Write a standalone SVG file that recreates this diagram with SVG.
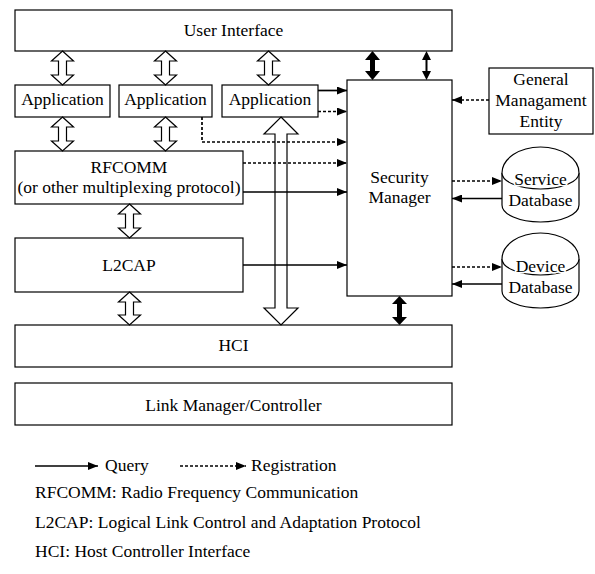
<svg xmlns="http://www.w3.org/2000/svg" width="595" height="574" viewBox="0 0 595 574" font-family="Liberation Serif, Times New Roman, Times, Tinos, Noto Serif, DejaVu Serif, serif" font-size="17.5">
<defs>
<style>
.c{text-anchor:middle}
.box{fill:#fff;stroke:#000;stroke-width:1.2}
.hollow{fill:#fff;stroke:#000;stroke-width:1.2}
.q{stroke:#000;stroke-width:1.7;fill:none}
.r{stroke:#000;stroke-width:1.7;fill:none;stroke-dasharray:3 2}
.thick{fill:#000}
.mask{stroke:#fff;stroke-width:3;paint-order:stroke}
</style>
<marker id="ah" viewBox="0 0 10 8" refX="10" refY="4" markerWidth="10" markerHeight="8" markerUnits="userSpaceOnUse" orient="auto">
<path d="M0,0 L10,4 L0,8 Z" fill="#000"/>
</marker>
</defs>

<g id="user-interface"><rect class="box" x="15" y="10" width="437" height="41"/><text class="c" x="233.5" y="36">User Interface</text></g>
<g id="app1"><rect class="box" x="15" y="85" width="95" height="32"/><text class="c" x="62.5" y="105">Application</text></g>
<g id="app2"><rect class="box" x="119" y="85" width="93" height="32"/><text class="c" x="165.5" y="105">Application</text></g>
<g id="app3"><rect class="box" x="222" y="85" width="96" height="32"/><text class="c" x="270" y="105">Application</text></g>
<g id="rfcomm"><rect class="box" x="15" y="151" width="228" height="53"/><text class="c" x="129" y="173">RFCOMM</text><text class="c" x="129" y="193">(or other multiplexing protocol)</text></g>
<g id="l2cap"><rect class="box" x="15" y="238" width="228" height="54"/><text class="c" x="129" y="271">L2CAP</text></g>
<g id="hci"><rect class="box" x="15" y="325" width="437" height="42"/><text class="c" x="233.5" y="351">HCI</text></g>
<g id="link-manager"><rect class="box" x="15" y="383" width="437" height="42"/><text class="c" x="233.5" y="411">Link Manager/Controller</text></g>
<g id="security-manager"><rect class="box" x="347" y="80" width="105" height="216"/><text class="c" x="399.5" y="183">Security</text><text class="c" x="399.5" y="203">Manager</text></g>
<g id="gme"><rect class="box" x="489" y="68" width="104" height="66"/><text class="c" x="541" y="85">General</text><text class="c" x="541" y="106">Managament</text><text class="c" x="541" y="127">Entity</text></g>
<g id="service-db"><path class="box" d="M502,173 A38.5,26 0 0 1 579,173 L579,205 A38.5,17 0 0 1 502,205 Z"/><path class="box" fill="none" d="M502,173 A38.5,16 0 0 0 579,173"/><text class="c mask" x="540.5" y="185">Service</text><text class="c" x="540.5" y="206">Database</text></g>
<g id="device-db"><path class="box" d="M502,259 A38.5,26 0 0 1 579,259 L579,291 A38.5,17 0 0 1 502,291 Z"/><path class="box" fill="none" d="M502,259 A38.5,16 0 0 0 579,259"/><text class="c mask" x="540.5" y="271.5">Device</text><text class="c" x="540.5" y="293">Database</text></g>

<g id="connectors">
<path class="hollow" d="M62.5,51 L73.5,61 L66.5,61 L66.5,75 L73.5,75 L62.5,85 L51.5,75 L58.5,75 L58.5,61 L51.5,61 Z"/>
<path class="hollow" d="M165.5,51 L176.5,61 L169.5,61 L169.5,75 L176.5,75 L165.5,85 L154.5,75 L161.5,75 L161.5,61 L154.5,61 Z"/>
<path class="hollow" d="M268.5,51 L279.5,61 L272.5,61 L272.5,75 L279.5,75 L268.5,85 L257.5,75 L264.5,75 L264.5,61 L257.5,61 Z"/>
<path class="hollow" d="M62.5,117 L73.5,127 L66.5,127 L66.5,141 L73.5,141 L62.5,151 L51.5,141 L58.5,141 L58.5,127 L51.5,127 Z"/>
<path class="hollow" d="M165.5,117 L176.5,127 L169.5,127 L169.5,141 L176.5,141 L165.5,151 L154.5,141 L161.5,141 L161.5,127 L154.5,127 Z"/>
<path class="hollow" d="M129.5,204 L140.5,214 L133.5,214 L133.5,228 L140.5,228 L129.5,238 L118.5,228 L125.5,228 L125.5,214 L118.5,214 Z"/>
<path class="hollow" d="M129.5,292 L140.5,302 L133.5,302 L133.5,315 L140.5,315 L129.5,325 L118.5,315 L125.5,315 L125.5,302 L118.5,302 Z"/>
<path class="hollow" d="M281,117 L298,134 L287,134 L287,308 L298,308 L281,325 L264,308 L275,308 L275,134 L264,134 Z"/>
<path class="thick" d="M372.5,51 L380,60 L375,60 L375,71 L380,71 L372.5,80 L365,71 L370,71 L370,60 L365,60 Z"/>
<path class="thick" d="M399.5,296 L407,304 L402,304 L402,317 L407,317 L399.5,325 L392,317 L397,317 L397,304 L392,304 Z"/>
<path class="thick" d="M426.5,51 L431,60 L427.5,60 L427.5,71 L431,71 L426.5,80 L422,71 L425.5,71 L425.5,60 L422,60 Z"/>
<line class="q" x1="318" y1="90.5" x2="347" y2="90.5" marker-end="url(#ah)"/>
<line class="r" x1="318" y1="111.5" x2="347" y2="111.5" marker-end="url(#ah)"/>
<polyline class="r" points="202,117 202,142 347,142" marker-end="url(#ah)"/>
<line class="r" x1="243" y1="163" x2="347" y2="163" marker-end="url(#ah)"/>
<line class="q" x1="243" y1="192" x2="347" y2="192" marker-end="url(#ah)"/>
<line class="q" x1="243" y1="265" x2="347" y2="265" marker-end="url(#ah)"/>
<line class="r" x1="489" y1="100" x2="452" y2="100" marker-end="url(#ah)"/>
<line class="r" x1="452" y1="181" x2="502" y2="181" marker-end="url(#ah)"/>
<line class="q" x1="502" y1="198.5" x2="452" y2="198.5" marker-end="url(#ah)"/>
<line class="r" x1="452" y1="267" x2="502" y2="267" marker-end="url(#ah)"/>
<line class="q" x1="502" y1="284" x2="452" y2="284" marker-end="url(#ah)"/>
</g>

<g id="legend">
<line class="q" x1="35" y1="466" x2="98" y2="466" marker-end="url(#ah)"/>
<text x="105" y="471">Query</text>
<line class="r" x1="180" y1="466" x2="246" y2="466" marker-end="url(#ah)"/>
<text x="251" y="471">Registration</text>
<text x="35" y="498">RFCOMM: Radio Frequency Communication</text>
<text x="35" y="528">L2CAP: Logical Link Control and Adaptation Protocol</text>
<text x="35" y="557">HCI: Host Controller Interface</text>
</g>
</svg>
